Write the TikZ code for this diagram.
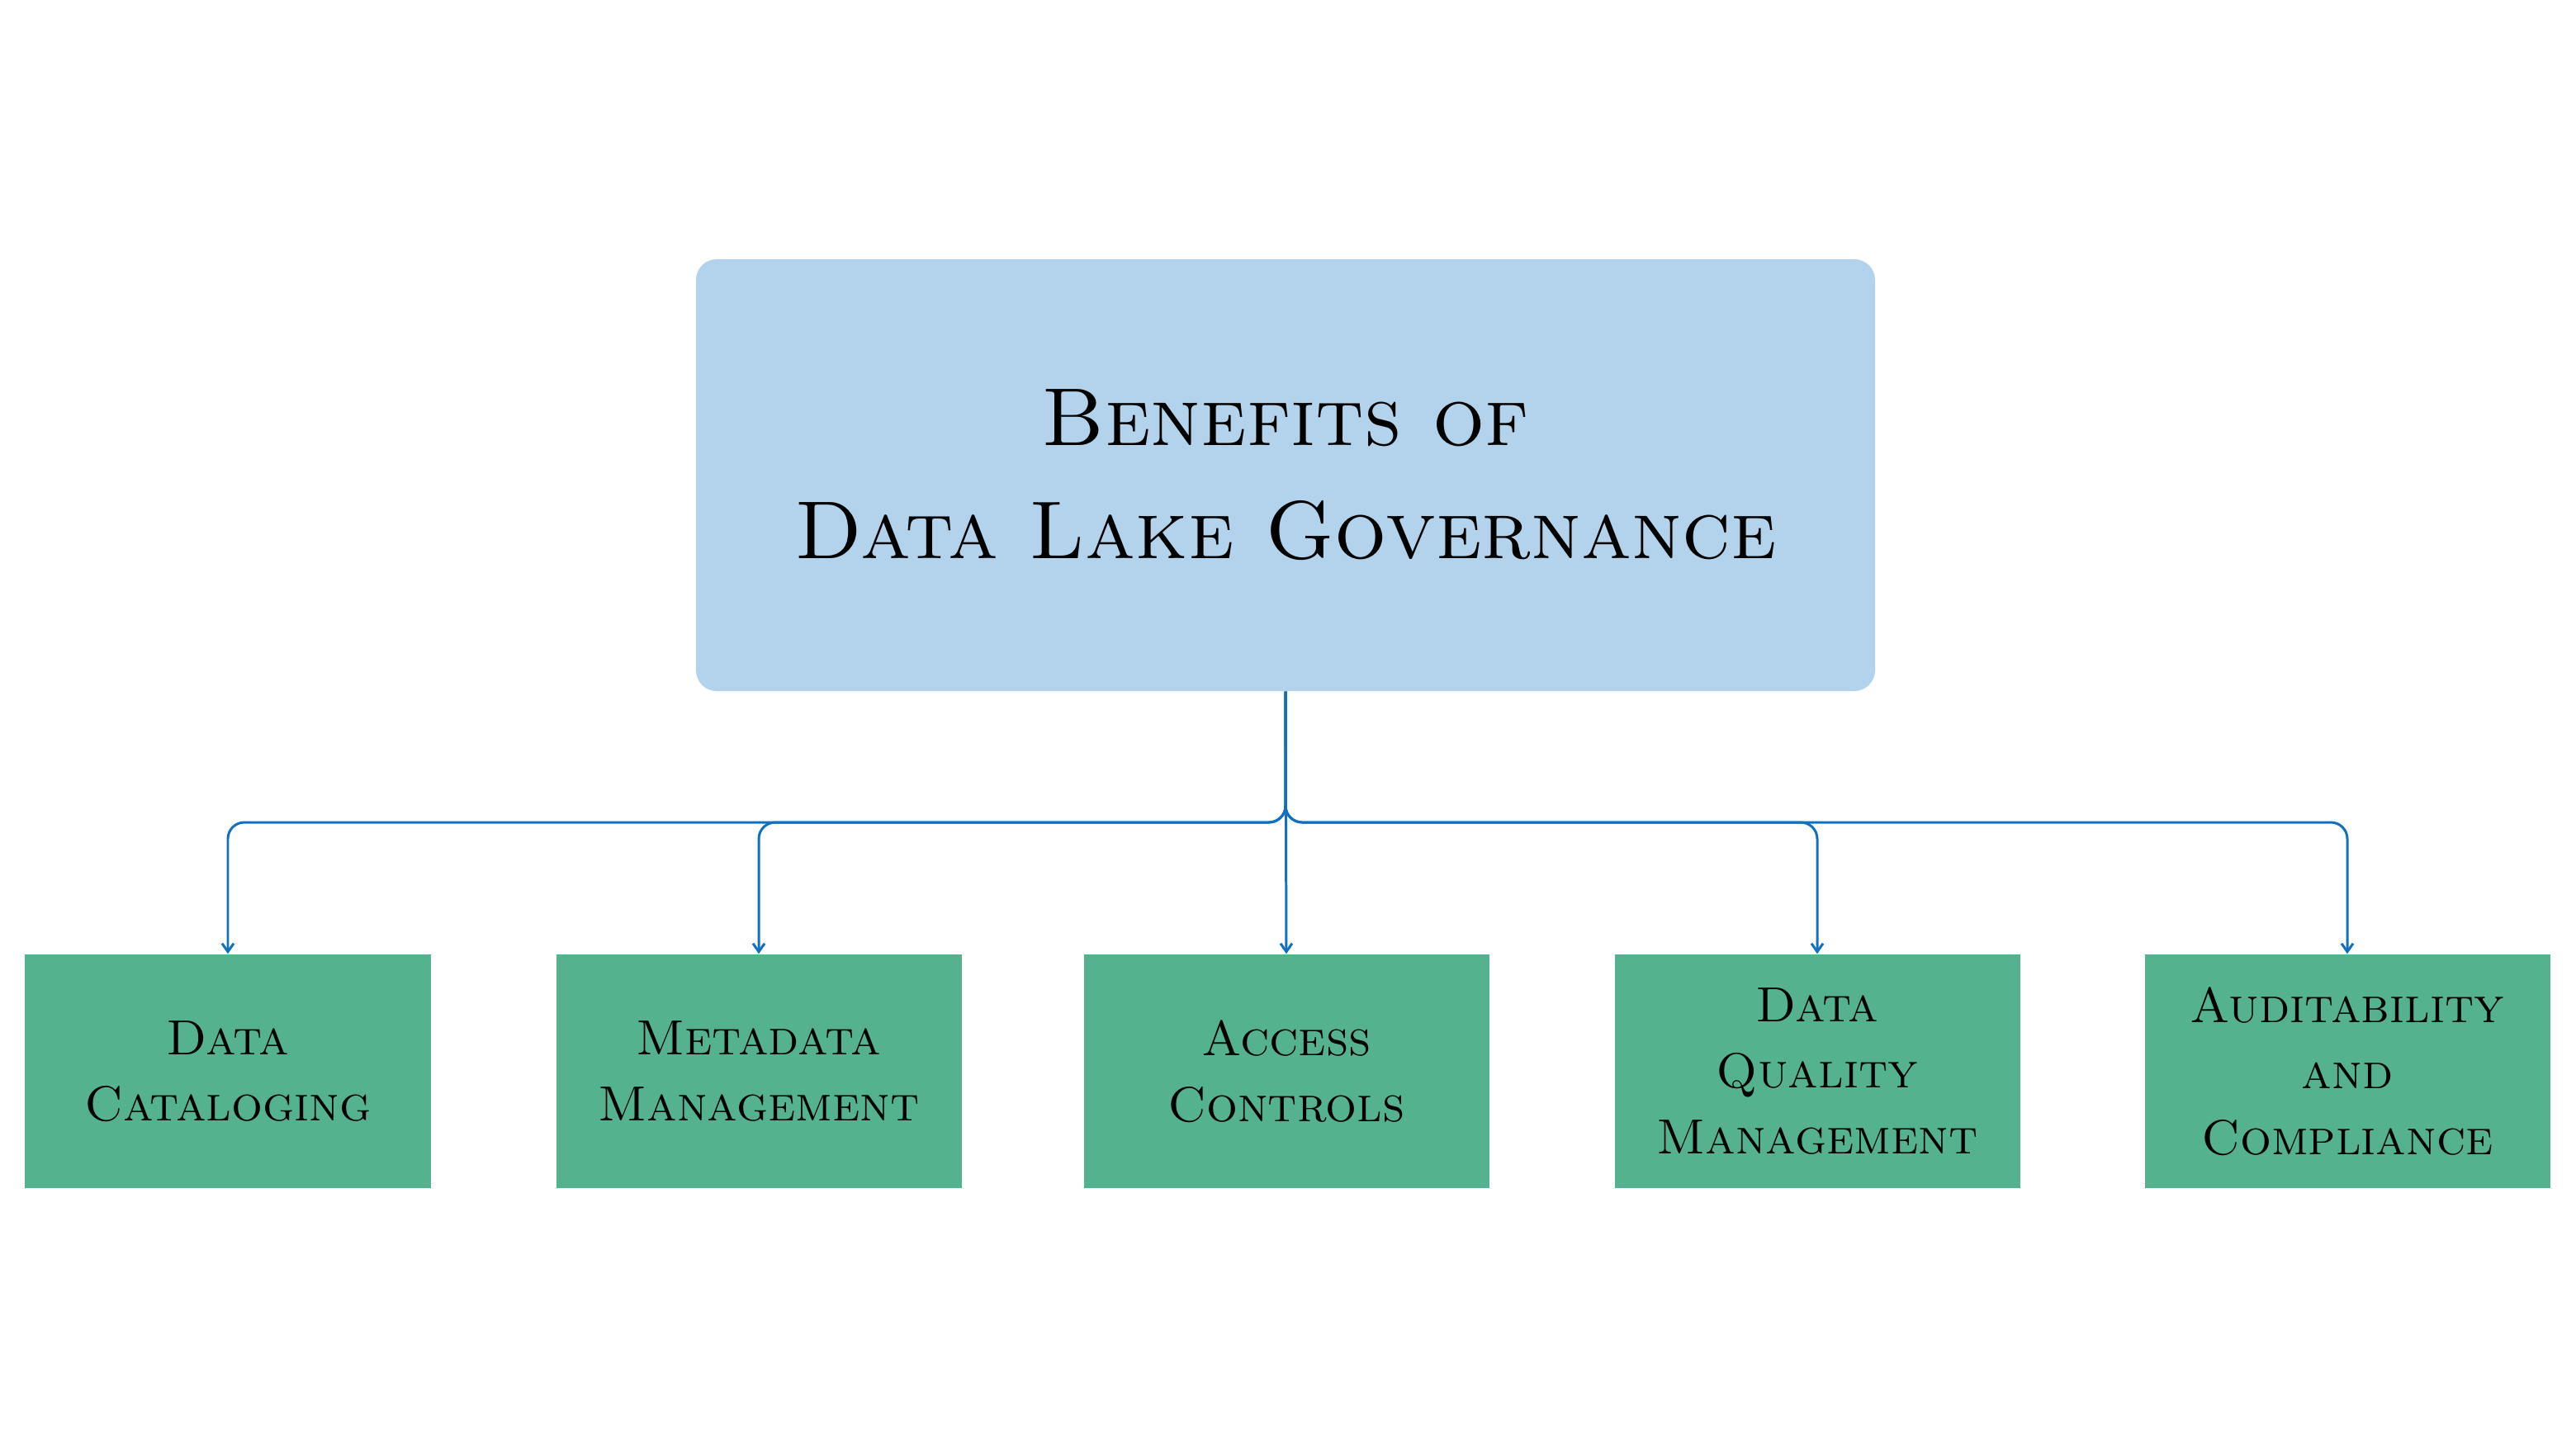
\documentclass[tikz,border=0pt]{standalone}
\usetikzlibrary{arrows.meta}
\definecolor{topblue}{HTML}{B3D2EB}
\definecolor{boxgreen}{HTML}{54B28F}
\definecolor{linkblue}{HTML}{1170BF}
\begin{document}
\begin{tikzpicture}[
    topbox/.style={fill=topblue, rounded corners=0.25cm, minimum width=14.28cm, minimum height=5.23cm,
        inner sep=0pt, align=center, font=\fontsize{28.3}{39}\selectfont\scshape},
    leafbox/.style={fill=boxgreen, minimum width=4.91cm, minimum height=2.83cm,
        inner sep=0pt, align=center, font=\fontsize{17}{22.8}\selectfont\scshape},
    link/.style={draw=linkblue, line width=0.85pt, rounded corners=0.2cm,
        -{Straight Barb[length=1mm, width=1.4mm]}}
]
            % 页面范围
            \useasboundingbox (0,0) rectangle (31.2,-17.55);

            % 顶部标题框
            \node[topbox] (top) at (15.57,-5.755) {Benefits of\\Data Lake Governance};

            % 底部五个框
            \node[leafbox] (b1) at (2.76,-12.975) {Data\\Cataloging};
            \node[leafbox] (b2) at (9.19,-12.975) {Metadata\\Management};
            \node[leafbox] (b3) at (15.58,-12.975) {Access\\Controls};
            \node[leafbox] (b4) at (22.01,-12.975) {Data\\Quality\\Management};
            \node[leafbox] (b5) at (28.43,-12.975) {Auditability\\and\\Compliance};

            % 分支汇合点
            \coordinate (bus) at (15.57,-9.96);

            % 连线
            \foreach \b in {b1,b2,b4,b5} {
                \draw[link] (top.south) -- (bus) -| (\b.north);
            }
            \draw[link] (top.south) -- (b3.north);
\end{tikzpicture}
\end{document}
